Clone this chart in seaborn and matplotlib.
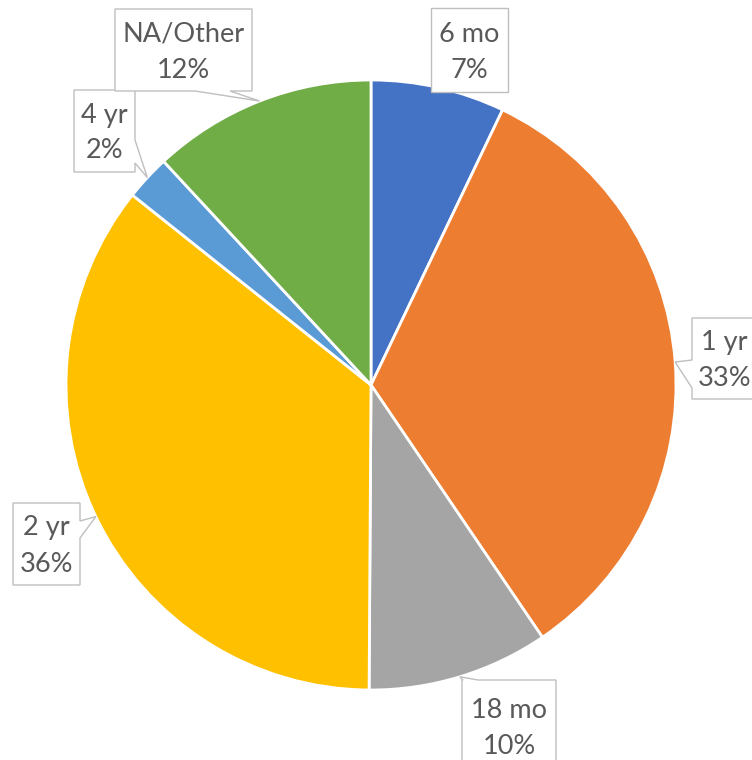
import numpy as np
import matplotlib.pyplot as plt
from matplotlib.patches import Polygon
import seaborn as sns

sns.set_theme(style="white")
plt.rcParams['font.family'] = ['Lato', 'DejaVu Sans']

#%% data
labels = ['6 mo', '1 yr', '18 mo', '2 yr', '4 yr', 'NA/Other']
shares = [7.1, 33.4, 9.6, 35.6, 2.4, 11.9]
colors = sns.color_palette(['#4472C4', '#ED7D31', '#A5A5A5', '#FFC000', '#5B9BD5', '#70AD47'])

# callout boxes in pixels: left, top, right, bottom, pointer edge, base from, base to
boxes = {
    '6 mo':     (431, 8, 508, 92, None, 0, 0),
    '1 yr':     (692, 318, 757, 399, 'left', 360, 388),
    '18 mo':    (462, 680, 556, 772, 'top', 463, 478),
    '2 yr':     (13, 503, 80, 585, 'right', 521, 538),
    '4 yr':     (74, 90, 135, 172, 'right', 140, 163),
    'NA/Other': (115, 9, 252, 91, 'bottom', 195, 230),
}

# pie centre and radius in pixels
CX, CY, R = 371, 385, 305
W, H = 752, 760

def to_data(x, y):
    return (x - CX) / R, (CY - y) / R

#%% plot
fig = plt.figure(figsize=(W / 100, H / 100), dpi=100)
ax = fig.add_axes([0, 0, 1, 1])

ax.pie(shares, colors=colors, startangle=90, counterclock=False, radius=1,
       wedgeprops=dict(edgecolor='white', linewidth=2))

total = sum(shares)
cum = np.cumsum([0] + shares)
for i, lab in enumerate(labels):
    mid = (cum[i] + cum[i + 1]) / 2 / total * 2 * np.pi
    tip = (np.sin(mid), np.cos(mid))
    x0, y0, x1, y1, edge, b0, b1 = boxes[lab]
    tl, tr, br, bl = to_data(x0, y0), to_data(x1, y0), to_data(x1, y1), to_data(x0, y1)
    if edge == 'top':
        pts = [tl, to_data(b0, y0), tip, to_data(b1, y0), tr, br, bl]
    elif edge == 'right':
        pts = [tl, tr, to_data(x1, b0), tip, to_data(x1, b1), br, bl]
    elif edge == 'bottom':
        pts = [tl, tr, br, to_data(b1, y1), tip, to_data(b0, y1), bl]
    elif edge == 'left':
        pts = [tl, tr, br, bl, to_data(x0, b1), tip, to_data(x0, b0)]
    else:
        pts = [tl, tr, br, bl]
    ax.add_patch(Polygon(pts, closed=True, facecolor='white', edgecolor='#BFBFBF',
                         linewidth=1.0, zorder=3))
    cx, cy = to_data((x0 + x1) / 2, (y0 + y1) / 2 + 2)
    ax.text(cx, cy, f"{lab}\n{round(shares[i])}%", ha='center', va='center',
            fontsize=19.5, color='#595959', linespacing=1.55, zorder=4)

ax.set_xlim(-CX / R, (W - CX) / R)
ax.set_ylim((CY - H) / R, CY / R)
ax.set_aspect('equal')
ax.axis('off')

plt.savefig('out.png', dpi=100)
